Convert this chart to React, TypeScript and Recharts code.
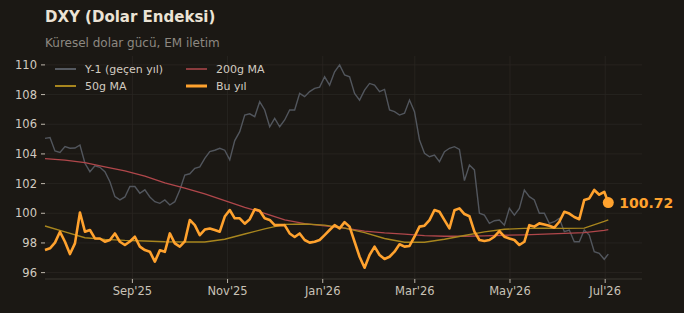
import { LineChart, Line, XAxis, YAxis, CartesianGrid } from "recharts";

document.body.style.margin = "0";

const FONT = "'DejaVu Sans', sans-serif";
const BG = "#1b1814";

// x axis is days since 7 Jul 2025; samples are ~3.2 days apart
const STEP = 3.2;
const monthTicks = [56, 117, 178, 237, 298, 359];
const monthLabels = ["Sep'25", "Nov'25", "Jan'26", "Mar'26", "May'26", "Jul'26"];
const yTicks = [96, 98, 100, 102, 104, 106, 108, 110];

// Bu yıl (this year)
const buYil = [
  97.52, 97.64, 98.02, 98.75, 98.08, 97.25, 97.97, 100.05, 98.76, 98.87,
  98.31, 98.3, 98.08, 98.2, 98.64, 98.08, 97.86, 98.1, 98.42, 97.75,
  97.52, 97.41, 96.74, 97.5, 97.4, 98.64, 97.97, 97.75, 98.1, 99.55,
  99.2, 98.53, 98.9, 98.97, 98.87, 98.76, 99.78, 100.22, 99.66, 99.66,
  99.3, 99.6, 100.27, 100.17, 99.66, 99.55, 99.2, 99.2, 99.2, 98.64,
  98.4, 98.64, 98.2, 98.02, 98.08, 98.2, 98.53, 98.87, 99.2, 98.98,
  99.4, 99.1, 98.08, 97.07, 96.33, 97.19, 97.75, 97.19, 96.92, 97.07,
  97.41, 97.91, 97.75, 97.8, 98.42, 99.1, 99.16, 99.54, 100.22, 100.1,
  99.54, 98.98, 100.2, 100.33, 99.95, 99.8, 98.76, 98.2, 98.13, 98.2,
  98.42, 98.8, 98.42, 98.3, 98.2, 97.86, 98.08, 99.2, 99.1, 99.32,
  99.25, 99.16, 99.03, 99.43, 100.1, 99.98, 99.75, 99.6, 100.9, 101.0,
  101.57, 101.25, 101.45,
];
const buYilLast = 100.72;

// Y-1 (geçen yıl)
const gecenYil = [
  105.05, 105.1, 104.2, 104.1, 104.49, 104.38, 104.4, 104.6, 103.37, 102.8,
  103.2, 103.1, 102.8, 102.13, 101.12, 100.9, 101.1, 101.8, 101.8, 101.35,
  101.58, 101.1, 100.78, 100.67, 100.9, 100.56, 100.78, 101.57, 102.58, 102.66,
  103.03, 103.13, 103.7, 104.15, 104.25, 104.38, 104.25, 103.6, 104.9, 105.5,
  106.62, 106.7, 106.51, 107.52, 106.96, 105.83, 106.4, 105.83, 106.29, 106.96,
  106.96, 108.08, 107.86, 108.2, 108.42, 108.5, 109.2, 108.64, 109.54, 110.0,
  109.32, 109.2, 108.08, 107.63, 108.3, 108.75, 108.64, 108.2, 108.35, 106.96,
  106.85, 106.62, 106.74, 107.63, 106.85, 104.94, 104.04, 103.81, 103.92, 103.48,
  104.15, 104.38, 104.49, 104.3, 102.2, 103.25, 102.92, 100.0, 99.88, 99.32,
  99.5, 99.55, 99.2, 100.33, 99.88, 100.33, 101.57, 101.12, 100.9, 100.0,
  100.0, 99.32, 99.43, 99.66, 98.76, 98.87, 98.08, 98.08, 98.87, 98.53,
  97.41, 97.3, 96.9,
];
const gecenYilLast = 97.25;

// moving averages, one value every 4 samples
const ma200 = [
  103.68, 103.58, 103.42, 103.12, 102.85, 102.5, 102.05, 101.7, 101.3, 100.85,
  100.4, 100.0, 99.55, 99.3, 99.15, 99.0, 98.8, 98.68, 98.6, 98.5,
  98.45, 98.45, 98.48, 98.52, 98.55, 98.6, 98.65, 98.7, 98.85,
];
const ma200Last = 98.9;
const ma50 = [
  99.14, 98.75, 98.35, 98.24, 98.17, 98.13, 98.08, 98.06, 98.06, 98.25,
  98.6, 98.95, 99.25, 99.28, 99.2, 99.0, 98.7, 98.3, 98.05, 98.05,
  98.25, 98.5, 98.75, 98.92, 98.98, 99.0, 98.98, 99.0, 99.45,
];
const ma50Last = 99.55;
const LAST_DAY = 361;

const rows = buYil.map((v, i) => ({ d: i * STEP, bu: v, y1: gecenYil[i] }));
rows.push({ d: LAST_DAY, bu: buYilLast, y1: gecenYilLast });

const maRows = ma200.map((v, i) => ({ d: i * STEP * 4, ma200: v, ma50: ma50[i] }));
maRows.push({ d: LAST_DAY, ma200: ma200Last, ma50: ma50Last });

const legendItems = [
  { label: "Y-1 (geçen yıl)", color: "#555960", w: 2, x: 55, y: 69 },
  { label: "200g MA", color: "#b0474b", w: 1.5, x: 186, y: 69 },
  { label: "50g MA", color: "#a8861e", w: 2, x: 55, y: 86 },
  { label: "Bu yıl", color: "#ffa22e", w: 3, x: 186, y: 86 },
];

function EndDot(p: any) {
  if (p.index !== rows.length - 1) return <g key={"d" + p.index} />;
  return (
    <g key="end">
      <circle cx={p.cx} cy={p.cy} r={5.5} fill="#ffa22e" />
      <text x={p.cx + 11} y={p.cy + 5} fill="#ffa22e" fontSize={14} fontWeight="bold" fontFamily={FONT}>
        {buYilLast.toFixed(2)}
      </text>
    </g>
  );
}

export default function App() {
  return (
    <div style={{ position: "relative", width: 684, height: 313, background: BG, fontFamily: FONT, overflow: "hidden" }}>
      <div style={{ position: "absolute", left: 45, top: 10, fontSize: 15, lineHeight: "15px", fontWeight: "bold", color: "#ebe3d5" }}>
        DXY (Dolar Endeksi)
      </div>
      <div style={{ position: "absolute", left: 45, top: 37, fontSize: 12, lineHeight: "12px", color: "#8d8881" }}>
        Küresel dolar gücü, EM iletim
      </div>
      <LineChart width={684} height={313} data={rows} margin={{ top: 56, right: 42, bottom: 4, left: 0 }}>
        <CartesianGrid stroke="#2a2622" strokeWidth={0.8} horizontalValues={yTicks} verticalValues={monthTicks} />
        <XAxis
          dataKey="d"
          type="number"
          domain={[0, 382.6]}
          ticks={monthTicks}
          tickFormatter={(v: number) => monthLabels[monthTicks.indexOf(v)] ?? ""}
          height={30}
          stroke="#3b3731"
          tickLine={{ stroke: "#bdb6ab" }}
          tickSize={4}
          tickMargin={4}
          tick={{ fill: "#c9c2b7", fontSize: 11.5, fontFamily: FONT }}
        />
        <YAxis
          type="number"
          domain={[95.57, 110.6]}
          ticks={yTicks}
          width={45}
          axisLine={false}
          tickLine={{ stroke: "#bdb6ab" }}
          tickSize={4}
          tickMargin={4}
          tick={{ fill: "#d2cbc0", fontSize: 11.5, fontFamily: FONT }}
        />
        <Line dataKey="y1" stroke="#52565d" strokeWidth={1.4} dot={false} isAnimationActive={false} type="linear" />
        <Line data={maRows} dataKey="ma200" stroke="#b0474b" strokeWidth={1.3} dot={false} isAnimationActive={false} type="linear" />
        <Line data={maRows} dataKey="ma50" stroke="#a8861e" strokeWidth={1.4} dot={false} isAnimationActive={false} type="linear" />
        <Line dataKey="bu" stroke="#ffa22e" strokeWidth={2.6} strokeLinejoin="round" dot={EndDot} isAnimationActive={false} type="linear" />
      </LineChart>
      {legendItems.map((it) => (
        <div key={it.label} style={{ position: "absolute", left: it.x, top: it.y - 8, height: 16, display: "flex", alignItems: "center" }}>
          <svg width={22} height={16} style={{ marginRight: 8 }}>
            <line x1={0} x2={21} y1={8} y2={8} stroke={it.color} strokeWidth={it.w} />
          </svg>
          <span style={{ fontSize: 11, color: "#d2cbc0", whiteSpace: "nowrap" }}>{it.label}</span>
        </div>
      ))}
    </div>
  );
}
